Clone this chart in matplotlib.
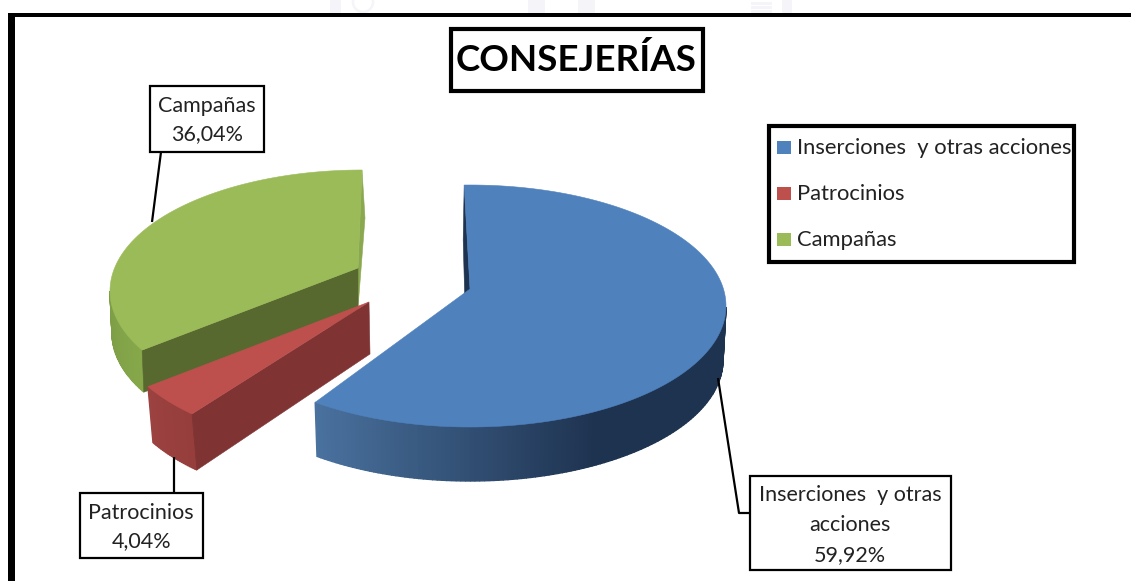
import numpy as np
import matplotlib
matplotlib.use("Agg")
import matplotlib.pyplot as plt
from matplotlib.patches import Polygon, Rectangle, Circle
from matplotlib.colors import to_rgb

plt.rcParams['font.family'] = ['Lato', 'DejaVu Sans']

# data
categories = ["Inserciones  y otras acciones", "Patrocinios", "Campañas"]
shares = [59.92, 4.04, 36.04]
share_labels = ["59,92%", "4,04%", "36,04%"]
top_colors = ["#4f81bd", "#bd504d", "#9bbb59"]

W, H = 1131, 581
fig = plt.figure(figsize=(W / 100, H / 100), dpi=100, facecolor="white")
ax = fig.add_axes([0, 0, 1, 1])
ax.set_xlim(0, W)
ax.set_ylim(H, 0)
ax.axis("off")

# screen geometry of each exploded slice in the 3-D view
geom = [
    dict(c=(470, 306), r=(256, 121), bc=(470, 360), br=(253, 121), apex=(470, 289),
         off0=1.3, off1=-1.5, wc=("#4a729f", "#1e3350"), inner="#1e3350"),
    dict(c=(372, 328), r=(256, 121), bc=(377, 384), br=(256, 121), apex=(369, 302),
         off0=-9.0, off1=-10.8, wc=("#9c4240", "#953e3c"), inner="#7f3333"),
    dict(c=(362, 291), r=(252, 121), bc=(362, 333), br=(250, 121), apex=(358, 268),
         off0=-10.5, off1=0.0, wc=("#7c9c45", "#86a84a"), inner="#58692f"),
]

# slice angles come from the shares, clockwise from 12 o'clock
spans = np.array(shares) / 100 * 360
ends = 90 - np.cumsum(spans)
starts = ends + spans


def pt(c, r, deg):
    a = np.radians(deg)
    return np.column_stack([c[0] + r[0] * np.cos(a), c[1] - r[1] * np.sin(a)])


def lerp(a, b, t):
    a, b = np.array(to_rgb(a)), np.array(to_rgb(b))
    return tuple(a + (b - a) * t)


def poly(xy, color, z, lw=0.4):
    ax.add_patch(Polygon(xy, closed=True, fc=color, ec=color, lw=lw, zorder=z))


def wall(g, a_from, a_to, n, z, tfun):
    ws = np.linspace(a_from, a_to, n)
    for k in range(n - 1):
        q = ws[k:k + 2]
        xy = np.vstack([pt(g["c"], g["r"], q), pt(g["bc"], g["br"], q)[::-1]])
        poly(xy, lerp(*g["wc"], tfun(k / (n - 2))), z, lw=1.0)


def draw_slice(i, z):
    g = geom[i]
    a0 = starts[i] + g["off0"]
    a1 = ends[i] + g["off1"]
    if i == 0:
        wall(g, a1, -0.5, 120, z, lambda t: min(1.0, t * 1.9))
        s_top = pt(g["c"], g["r"], [a0])[0]
        poly([s_top, s_top + (-1, 55), np.array(g["apex"]) + (-4, 55), g["apex"]], "#1e3350", z + 0.1)
    elif i == 1:
        wall(g, a1, a0, 24, z, lambda t: t)
        e_top = pt(g["c"], g["r"], [a0])[0]
        e_bot = pt(g["bc"], g["br"], [a0])[0]
        poly([e_top, e_bot, np.array(g["apex"]) + (1, 52), g["apex"]], g["inner"], z + 0.1)
    else:
        s_ang = a0 + 360
        s_top = pt(g["c"], g["r"], [a1 + 360])[0]
        poly([s_top, s_top + (3, 48), np.array(g["apex"]) + (0, 40), g["apex"]], "#8aa84f", z)
        wall(g, 180, s_ang, 40, z, lambda t: t)
        e_top = pt(g["c"], g["r"], [s_ang])[0]
        e_bot = pt(g["bc"], g["br"], [s_ang])[0]
        poly([e_top, e_bot, np.array(g["apex"]) + (0, 48), g["apex"]], g["inner"], z + 0.1)
    # top face
    top_angles = np.linspace(a0, a1, 160)
    xy = np.vstack([[g["apex"]], pt(g["c"], g["r"], top_angles)])
    poly(xy, top_colors[i], z + 0.2)


# faint page watermark above the frame
wm = "#f4f4f9"
for x0, x1 in [(330, 341), (528, 545), (578, 595), (782, 792)]:
    ax.add_patch(Rectangle((x0, 0), x1 - x0, 13, fc=wm, ec="none", zorder=0))
ax.add_patch(Circle((363, 2), 10, fc="none", ec=wm, lw=1.8, zorder=0))
for y0 in (2, 6, 10):
    ax.add_patch(Rectangle((751, y0), 21, 2.5, fc=wm, ec="none", zorder=0))

# frame: only the top and left edges are in view
ax.add_patch(Rectangle((8, 13), W - 8, 4, fc="black", ec="none", zorder=1))
ax.add_patch(Rectangle((8, 13), 7, H - 13, fc="black", ec="none", zorder=1))

draw_slice(2, 2)
draw_slice(1, 3)
draw_slice(0, 4)

txt = "#222222"

# title
ax.add_patch(Rectangle((450.5, 28.5), 252, 62, fc="white", ec="black", lw=3, zorder=6))
ax.text(576, 60, "CONSEJERÍAS", fontsize=26.5, fontweight="bold", ha="center", va="center",
        color="black", zorder=7)

# legend
ax.add_patch(Rectangle((769, 125.5), 305, 136, fc="white", ec="black", lw=3, zorder=6))
legend_y = [147.5, 193.5, 239.5]
for name, col, y in zip(categories, top_colors, legend_y):
    ax.add_patch(Rectangle((777, y - 6.5), 14, 13, fc=col, ec="none", zorder=7))
    ax.text(797, y, name, fontsize=15.8, ha="left", va="center", color=txt, zorder=7)


# data labels with leader lines
def callout(x0, y0, x1, y1, lines, ys, leader):
    ax.plot(*zip(*leader), color="black", lw=1.6, zorder=5, solid_capstyle="butt")
    ax.add_patch(Rectangle((x0, y0), x1 - x0, y1 - y0, fc="white", ec="black", lw=1.6, zorder=6))
    for s, y in zip(lines, ys):
        ax.text((x0 + x1) / 2, y, s, fontsize=15.5, ha="center", va="center", color=txt, zorder=7)


callout(149.5, 86, 264, 152, [categories[2], share_labels[2]], [106, 134], [(161, 152), (152, 222)])
callout(79.5, 493, 203, 558, [categories[1], share_labels[1]], [513, 541], [(174, 457), (174, 493)])
callout(749.5, 476, 951, 570, ["Inserciones  y otras", "acciones", share_labels[0]], [495, 525, 555],
        [(718, 378), (739, 513), (749.5, 513)])

fig.savefig("out.png", dpi=100, facecolor="white")
